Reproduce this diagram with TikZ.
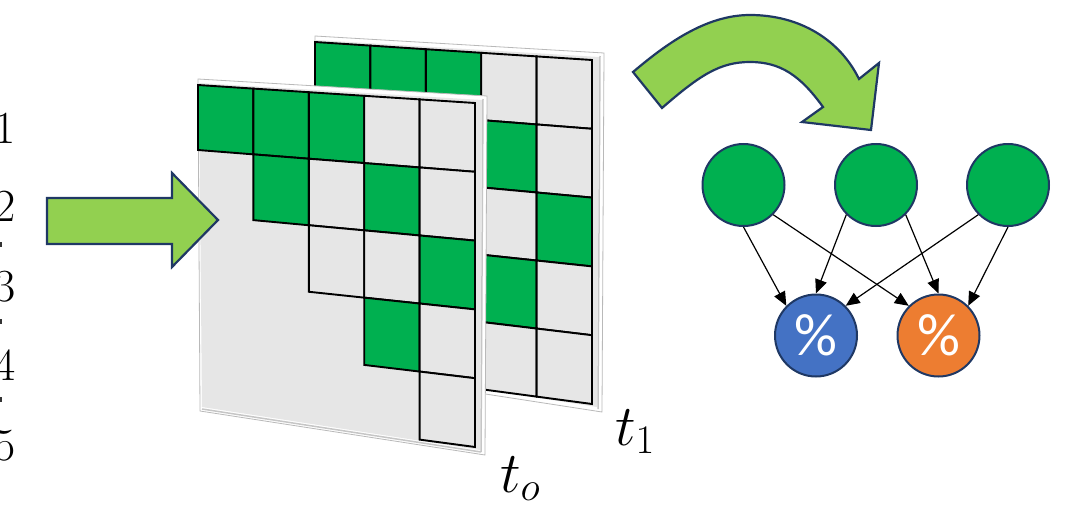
\RequirePackage{fix-cm}
\documentclass[tikz,border=0pt]{standalone}
\usepackage{fontspec}
\newfontfamily\calib{Carlito}
\usetikzlibrary{arrows.meta}
\definecolor{lgreen}{HTML}{92D050}
\definecolor{navy}{HTML}{1F3864}
\definecolor{cgreen}{HTML}{00B050}
\definecolor{cgray}{HTML}{E6E6E6}
\definecolor{cblue}{HTML}{4472C4}
\definecolor{corange}{HTML}{ED7D31}
\tikzset{
  blockarrow/.style={fill=lgreen, draw=navy, line width=2.2pt, line join=miter},
  panelrim/.style={fill=white, draw=gray!55, line width=0.8pt},
  cellbox/.style={draw=black, line width=1.9pt, line join=miter},
  hid/.style={circle, draw=navy, line width=2pt, fill=cgreen, minimum size=82pt, inner sep=0pt},
  outn/.style={circle, draw=navy, line width=2pt, minimum size=82pt, inner sep=0pt, text=white, font=\calib\fontsize{60}{60}\selectfont},
  conn/.style={-{Triangle[length=14pt,width=12pt]}, line width=1.2pt, black},
  num/.style={anchor=east, inner sep=0pt, font=\fontsize{46}{46}\selectfont},
  tlab/.style={anchor=base west, inner sep=0pt, font=\fontsize{58}{58}\selectfont}
}
\begin{document}
\begin{tikzpicture}[x=1pt,y=-1pt]
\useasboundingbox (0,0) rectangle (1088,506);
\clip (0,0) rectangle (1088,506);
% grid coordinates
\foreach \u in {0,...,5}{\foreach \v in {0,...,5}{
  \coordinate (F\u\v) at ({198+55.4*\u},{85+3.6*\u+\v*(65+0.76*\u)});
  \coordinate (B\u\v) at ({315+55.4*\u},{42+3.6*\u+\v*(65+0.76*\u)});
}}
% back panel
\filldraw[panelrim] (315,36) -- (604,53) -- (602,412) -- (317,368) -- cycle;
\fill[cgray] (316,40) -- (599,57) -- (597,407) -- (319,364) -- cycle;
\draw[gray!45, line width=1.5pt] (600,56) -- (598,409);
\foreach \rw/\cl/\k in {0/0/cgreen,0/1/cgreen,0/2/cgreen,0/3/cgray,0/4/cgray,1/3/cgreen,1/4/cgray,2/3/cgray,2/4/cgreen,3/3/cgreen,3/4/cgray,4/3/cgray,4/4/cgray}{
  \pgfmathtruncatemacro\cc{\cl+1}\pgfmathtruncatemacro\rr{\rw+1}
  \filldraw[cellbox,fill=\k] (B\cl\rw) -- (B\cc\rw) -- (B\cc\rr) -- (B\cl\rr) -- cycle;}
% front panel
\filldraw[panelrim] (198,79) -- (487,96) -- (485,455) -- (200,411) -- cycle;
\fill[cgray] (199,83) -- (482,100) -- (480,450) -- (202,407) -- cycle;
\draw[gray!45, line width=1.5pt] (483,99) -- (481,452);
\draw[gray!45, line width=1.5pt] (202,409) -- (481,452);
\foreach \rw/\cl/\k in {0/0/cgreen,0/1/cgreen,0/2/cgreen,0/3/cgray,0/4/cgray,1/1/cgreen,1/2/cgray,1/3/cgreen,1/4/cgray,2/2/cgray,2/3/cgray,2/4/cgreen,3/3/cgreen,3/4/cgray,4/4/cgray}{
  \pgfmathtruncatemacro\cc{\cl+1}\pgfmathtruncatemacro\rr{\rw+1}
  \filldraw[cellbox,fill=\k] (F\cl\rw) -- (F\cc\rw) -- (F\cc\rr) -- (F\cl\rr) -- cycle;}
% left block arrow
\filldraw[blockarrow] (47,198) -- (172,198) -- (172,173) -- (218,220) -- (172,267) -- (172,244) -- (47,244) -- cycle;
% curved block arrow
\filldraw[blockarrow] (633,72) .. controls (665,45) and (705,15) .. (750,15)
  .. controls (800,15) and (840,40) .. (859,79) -- (879,63) -- (871,130) -- (802,122) -- (823,107)
  .. controls (800,75) and (780,62) .. (750,62) .. controls (720,62) and (700,75) .. (662,108) -- cycle;
% numbers
\node[num] (n1) at (16,128) {1};
\node[num] (n2) at (16,206) {2};
\node[num] (n3) at (16,287) {3};
\node[num] (n4) at (16,365) {4};
\node[num] (n5) at (16,446) {5};
\fill[black!80] (0,242) rectangle (2,247);
\fill[black!80] (0,319) rectangle (2,324);
\fill[black!80] (0,397) rectangle (2,402);
% network
\node[hid] (h1) at (743.5,185) {};
\node[hid] (h2) at (876,185) {};
\node[hid] (h3) at (1008,185) {};
\node[outn, fill=cblue] (o1) at (816,335.5) {\%};
\node[outn, fill=corange] (o2) at (938.5,335.5) {\%};
\draw[conn] (h1.270) -- (o1.135);
\draw[conn] (h1.315) -- (o2.135);
\draw[conn] (h2.225) -- (o1.90);
\draw[conn] (h2.315) -- (o2.90);
\draw[conn] (h3.225) -- (o1.45);
\draw[conn] (h3.270) -- (o2.45);
% labels
\node[tlab] (t1) at (615,445) {$t_1$};
\node[tlab] (t0) at (500,492) {$t_o$};
\end{tikzpicture}
\end{document}
